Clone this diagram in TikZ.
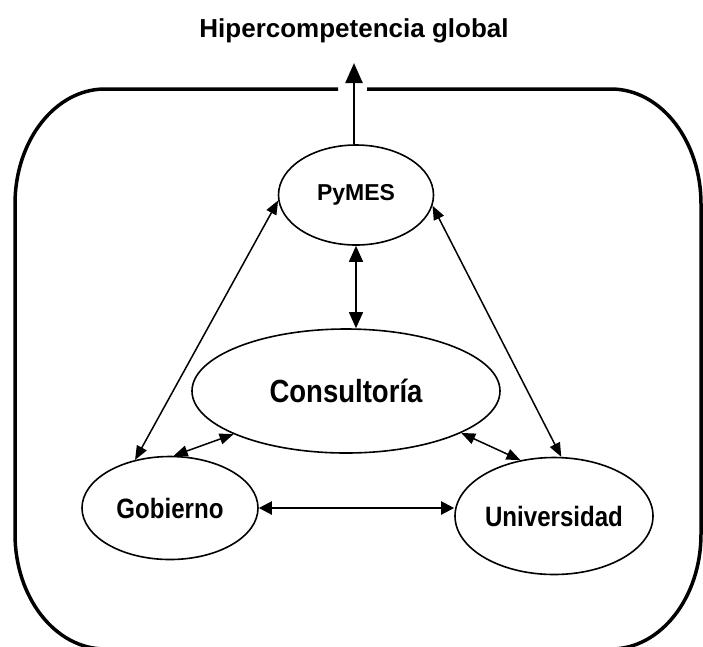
\documentclass[tikz,border=0pt]{standalone}
\usepackage{fontspec}
\setmainfont{Liberation Sans}
\newfontfamily\narrowfont{Liberation Sans}[FakeStretch=0.86]
\usetikzlibrary{arrows.meta,shapes.geometric}

\begin{document}
\begin{tikzpicture}[
  x=1pt,y=-1pt,
  actor/.style={draw,ellipse,inner sep=0pt,line width=1.6pt,
    font=\narrowfont\bfseries\fontsize{28}{32}\selectfont},
  link/.style={{Triangle[length=14pt,width=11pt]}-{Triangle[length=14pt,width=11pt]},
    line width=1.5pt},
  frame/.style={line width=3.5pt}
]
\useasboundingbox (0,0) rectangle (703,646);
\node[font=\bfseries\fontsize{26}{30}\selectfont,anchor=base] (title) at (354,37)
  {Hipercompetencia global};
\node[actor,minimum width=155pt,minimum height=100pt,
  font=\bfseries\fontsize{23}{27}\selectfont] (pymes) at (356,195) {PyMES};
\node[actor,minimum width=308pt,minimum height=124pt,
  font=\narrowfont\bfseries\fontsize{32}{36}\selectfont] (cons) at (346,391) {Consultoría};
\node[actor,minimum width=176pt,minimum height=103pt] (gob) at (170,508) {Gobierno};
\node[actor,minimum width=198pt,minimum height=117pt] (univ) at (554,516) {Universidad};

% outer frame, open at the top for the arrow
\draw[frame] (367,89) -- (611,89)
  arc[start angle=90,end angle=0,x radius=90pt,y radius=115pt] -- (701,534)
  arc[start angle=0,end angle=-90,x radius=90pt,y radius=115pt] -- (105,649)
  arc[start angle=270,end angle=180,x radius=90pt,y radius=115pt] -- (15,204)
  arc[start angle=180,end angle=90,x radius=90pt,y radius=115pt] -- (338,89);

\draw[-{Triangle[length=20pt,width=17pt]},line width=2.5pt,shorten >=17pt]
  (title.south |- pymes.north) -- (title.south);
\draw[link,{Triangle[length=16pt,width=14pt]}-{Triangle[length=16pt,width=14pt]}]
  (pymes.south) -- (pymes.south |- cons.north);
\draw[link] (pymes.184) -- (gob.126);
\draw[link] (pymes.352) -- (univ.83);
\draw[link] (cons.201) -- (gob.86);
\draw[link] (cons.340) -- (univ.121);
\draw[link,line width=2.2pt,{Triangle[length=13pt,width=13pt]}-{Triangle[length=13pt,width=13pt]}]
  (gob.east) -- (gob.east -| univ.west);
\end{tikzpicture}
\end{document}
